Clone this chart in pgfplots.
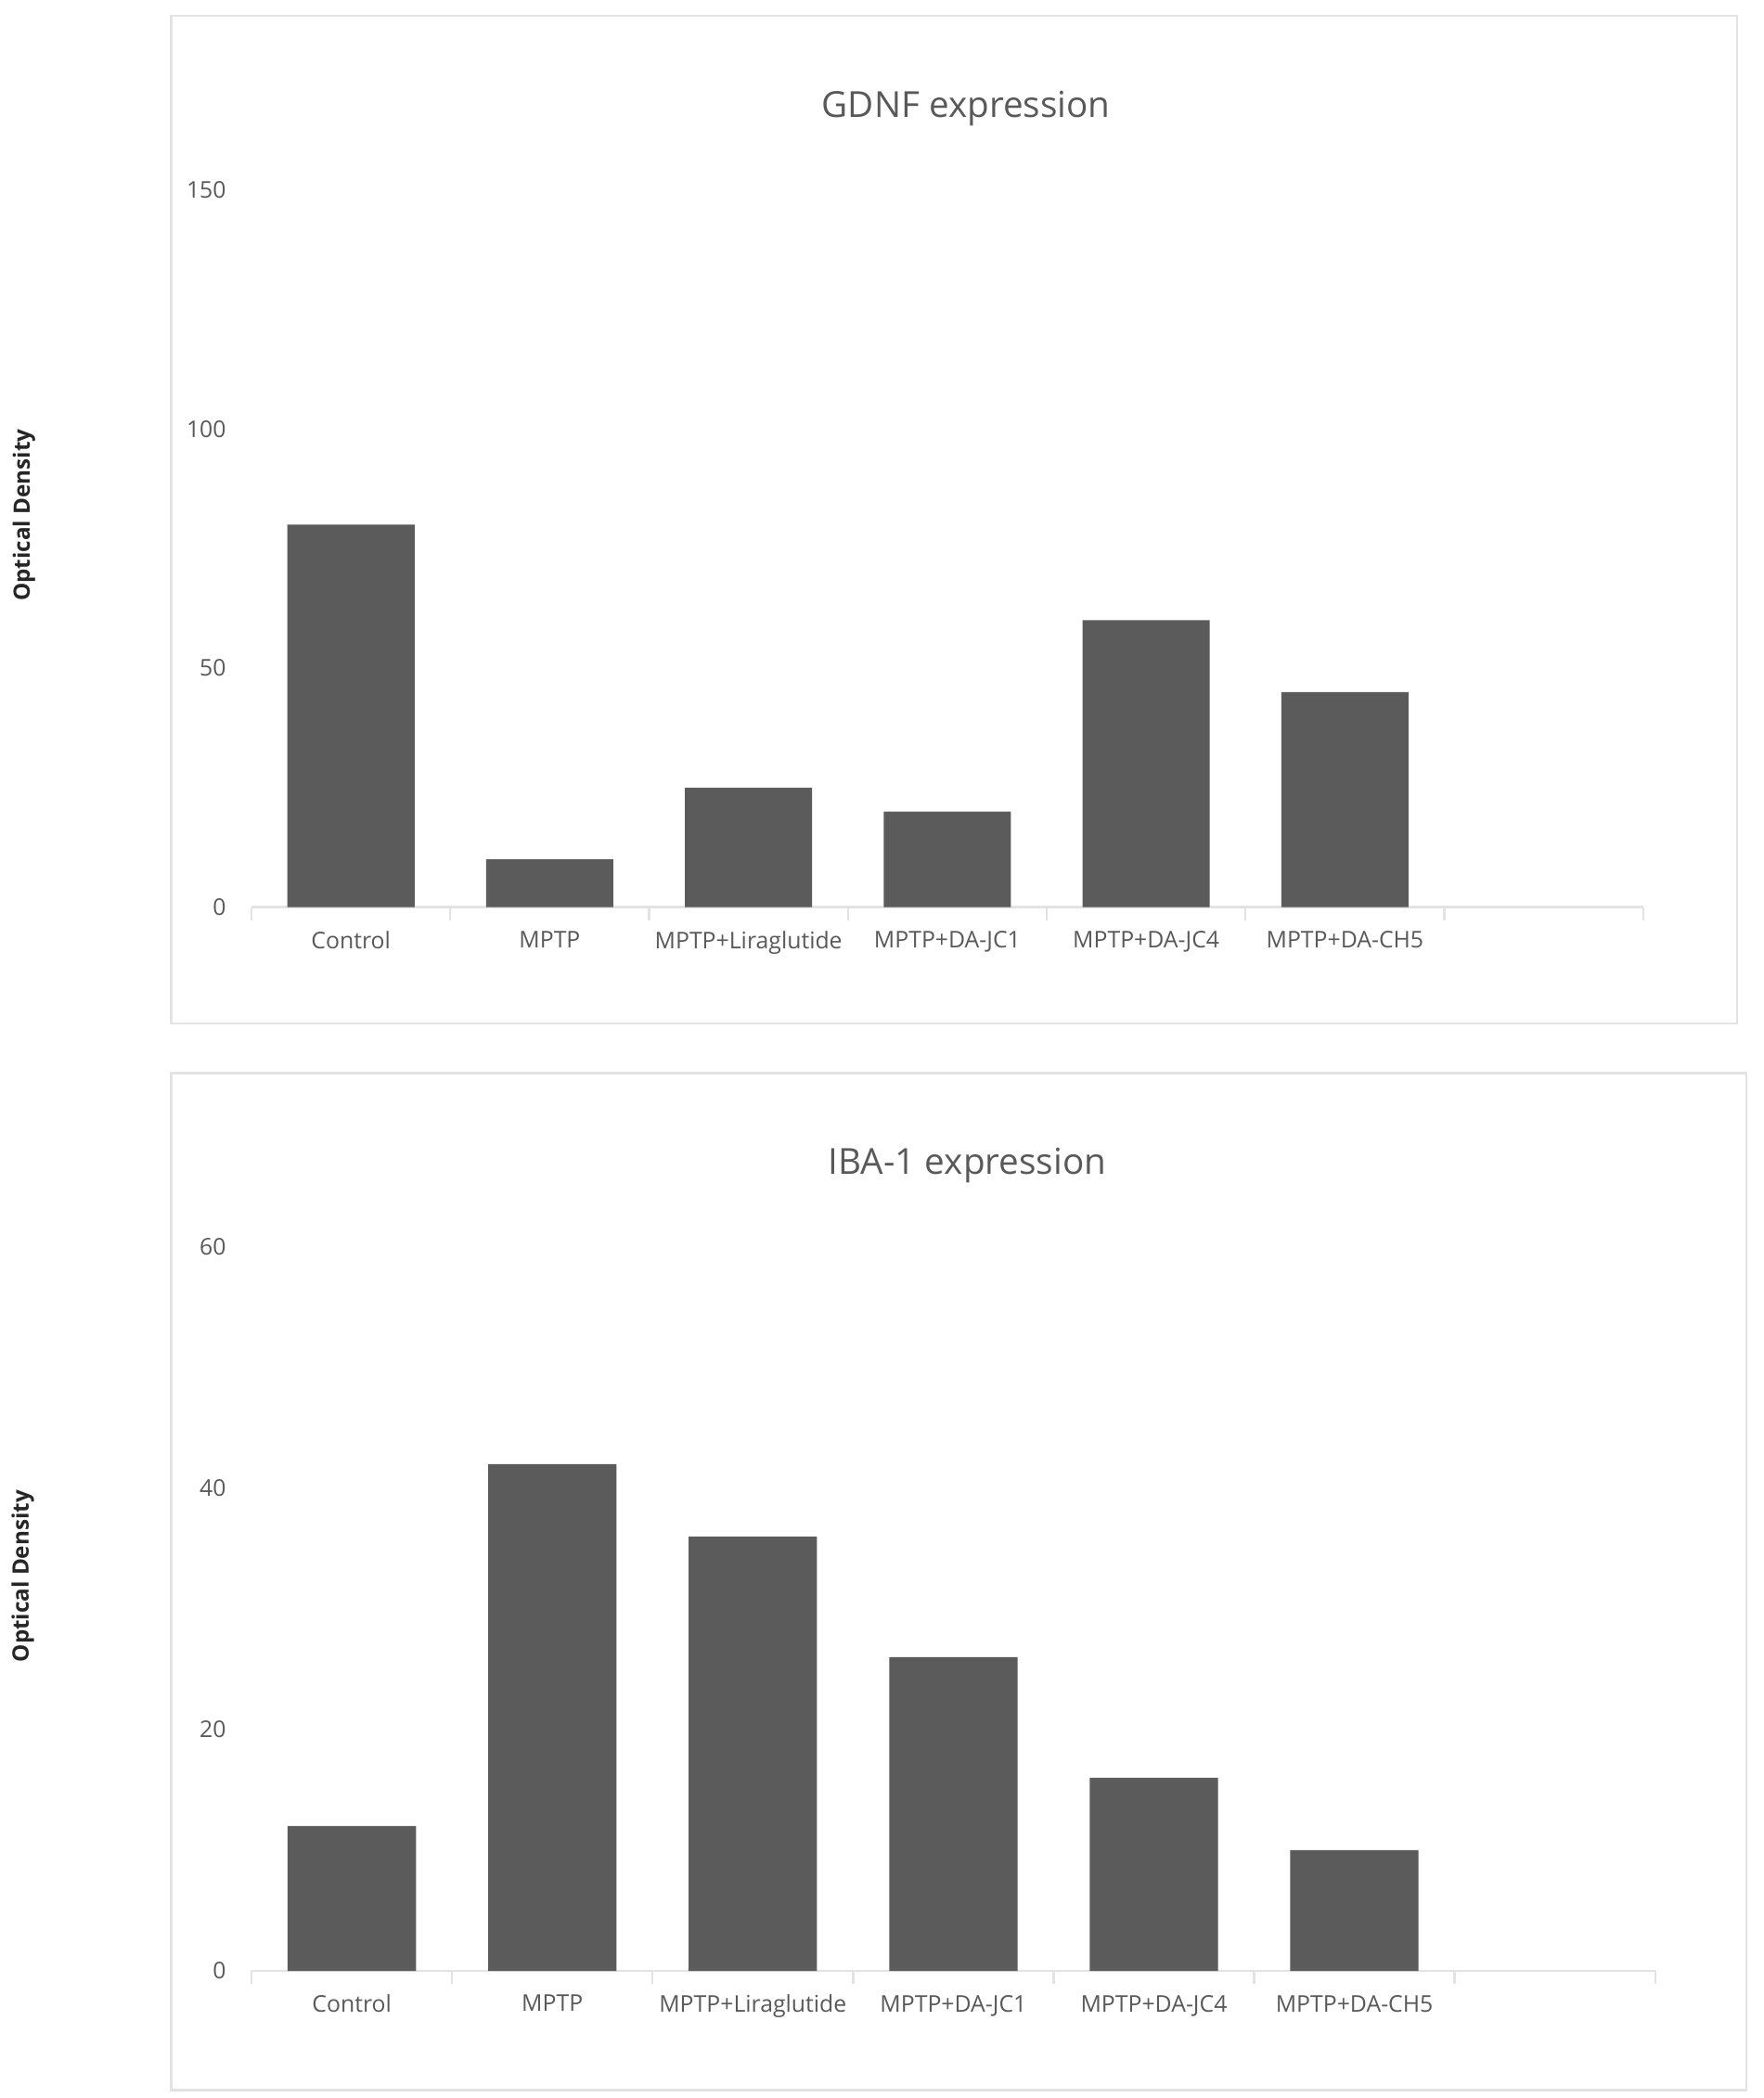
\documentclass[border=0pt]{standalone}
\usepackage{pgfplots}
\pgfplotsset{compat=1.18}
\usepackage{fontspec}
\setmainfont{Open Sans}
\definecolor{barcol}{HTML}{5B5B5B}
\definecolor{txt}{HTML}{595959}
\definecolor{frame}{HTML}{E3E3E3}
\pgfplotsset{
  mybar/.style={
    scale only axis,
    xmin=-0.5, xmax=6.5, ymin=0,
    axis x line*=bottom, axis y line*=left,
    axis line style={-},
    y axis line style={draw=none},
    x axis line style={draw=frame, line width=1pt},
    xtick={0,1,2,3,4,5},
    xticklabels={Control,MPTP,MPTP+Liraglutide,MPTP+DA-JC1,MPTP+DA-JC4,MPTP+DA-CH5},
    minor xtick={-0.5,0.5,...,6.5},
    major tick length=0pt, minor tick length=5pt,
    tick align=outside,
    every minor tick/.style={draw=frame, line width=0.8pt},
    tick label style={font=\fontsize{8.6}{9.5}\selectfont, text=txt},
    xticklabel style={yshift=-5.5pt},
    yticklabel style={xshift=-6pt},
    /pgf/number format/assume math mode=true,
    clip=false,
  }
}
\begin{document}
\begin{tikzpicture}
\fill[white] (0,0) rectangle (659pt,784pt);
\useasboundingbox (0,0) rectangle (659pt,784pt);
\draw[frame, line width=0.8pt] (64pt,401.5pt) rectangle (649pt,778pt);
\draw[frame, line width=0.8pt] (64pt,3pt) rectangle (652.5pt,383pt);
% top chart
\begin{axis}[mybar, at={(94pt,445pt)}, anchor=south west,
  width=520pt, height=268pt, ymax=150, ytick={0,50,100,150}]
\addplot[ybar, bar width=0.64, fill=barcol, draw=none]
  coordinates {(0,80) (1,10) (2,25) (3,20) (4,60) (5,45)};
\end{axis}
\node[text=txt, font=\fontsize{13.4}{15}\selectfont] at (361pt,743.5pt) {GDNF expression};
\node[rotate=90, font=\bfseries\fontsize{8.4}{9.5}\selectfont, text=black!85] at (9pt,591.5pt) {Optical Density};
% bottom chart
\begin{axis}[mybar, at={(94pt,47.5pt)}, anchor=south west,
  width=524.5pt, height=270.5pt, ymax=60, ytick={0,20,40,60}]
\addplot[ybar, bar width=0.64, fill=barcol, draw=none]
  coordinates {(0,12) (1,42) (2,36) (3,26) (4,16) (5,10)};
\end{axis}
\node[text=txt, font=\fontsize{13.4}{15}\selectfont] at (361.5pt,348.5pt) {IBA-1 expression};
\node[rotate=90, font=\bfseries\fontsize{8.4}{9.5}\selectfont, text=black!85] at (8.5pt,195pt) {Optical Density};
\end{tikzpicture}
\end{document}
